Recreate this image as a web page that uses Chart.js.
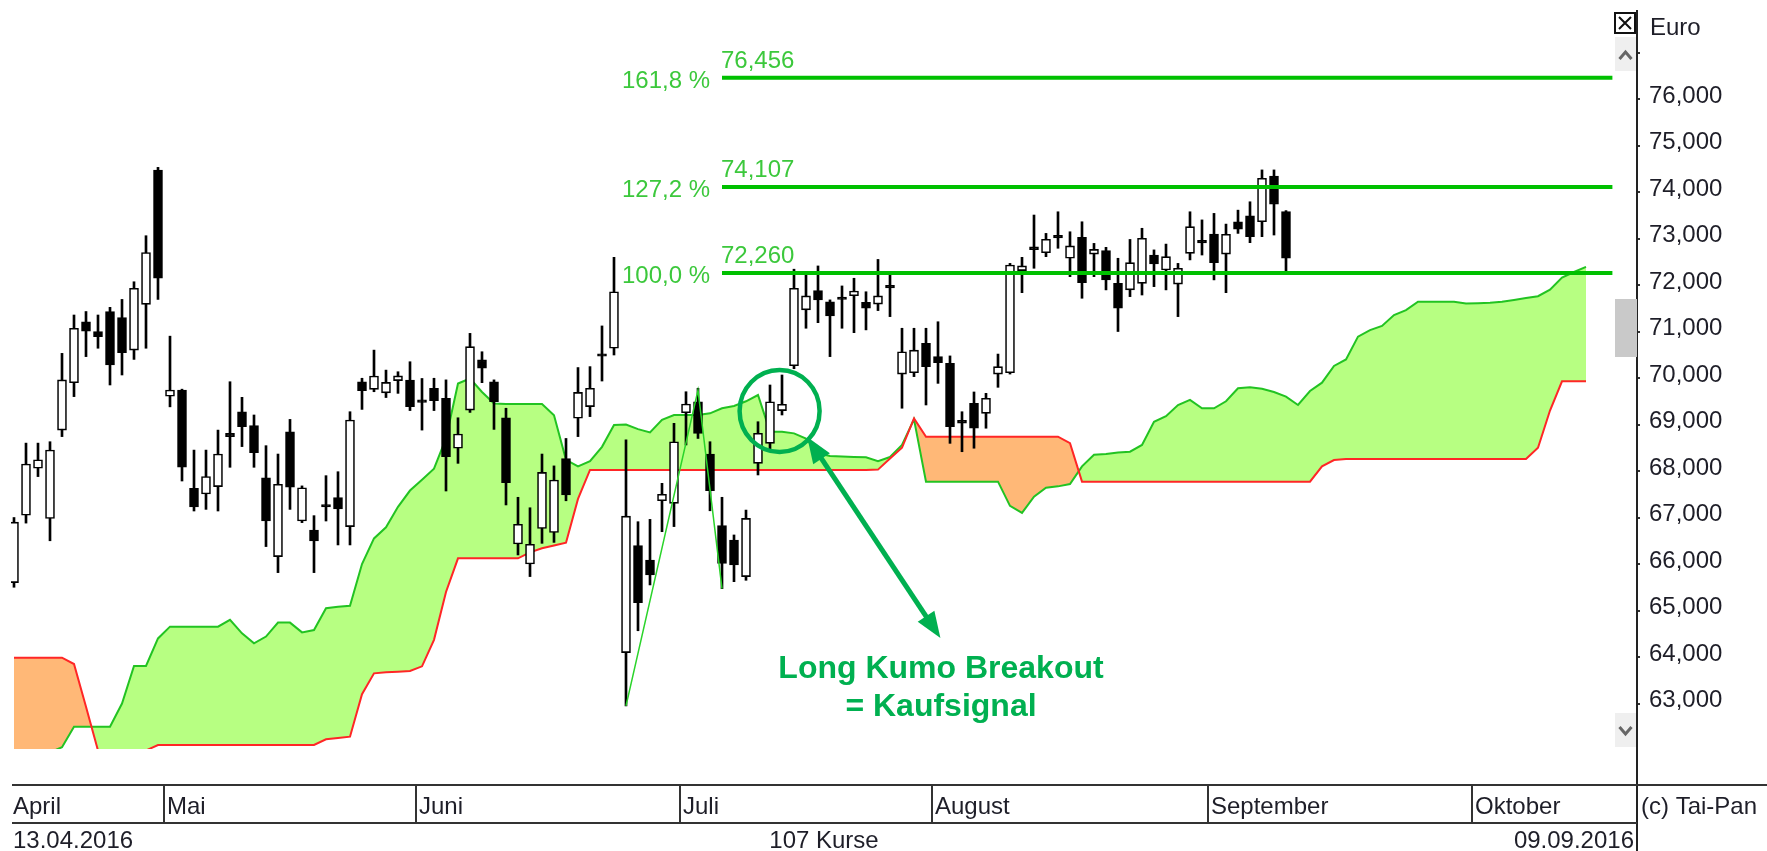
<!DOCTYPE html>
<html lang="de">
<head>
<meta charset="UTF-8" />
<title>Ichimoku Kumo Breakout</title>
<script src="https://cdn.jsdelivr.net/npm/chart.js"></script>
<style>
  html, body { margin: 0; padding: 0; background: #fff; }
  .wrap { width: 1767px; height: 851px; position: relative; }
</style>
</head>
<body>
<div class="wrap"><canvas id="chart"></canvas></div>
<script>
  // Kurse 13.04.2016 - 09.09.2016 (107 Kurse), Werte in 1/1000 Euro
  const opens = [65600, 67050, 68060, 66980, 68880, 69900, 71210, 71000, 71430, 71300,
    70600, 71585, 74470, 69610, 69740, 67630, 67505, 67665, 68810, 69275,
    68975, 67855, 66160, 68845, 66925, 66730, 67280, 67430, 66805, 69920,
    69757, 69680, 69945, 69955, 69530, 69780, 69565, 68490, 69310, 70390,
    69920, 69145, 66430, 66000, 66765, 66680, 68270, 69135, 69385, 70520,
    70640, 64095, 66395, 66085, 67360, 67305, 69255, 69490, 68365, 66825,
    66515, 65730, 68165, 68595, 69300, 70265, 71465, 71880, 71640, 71740,
    71770, 71630, 71590, 71995, 70085, 70115, 70745, 70460, 70315, 69090,
    69455, 69240, 70085, 70115, 72310, 72820, 72695, 73070, 72575, 73025,
    72665, 72740, 72035, 71895, 72035, 72645, 72325, 72020, 72680, 72960,
    73095, 72665, 73360, 73485, 73360, 74345, 73580];
  const highs = [67000, 68600, 68600, 68630, 70530, 71355, 71430, 71355, 71520, 71690,
    72070, 73060, 74530, 70900, 69760, 68450, 68450, 68880, 69920, 69585,
    69205, 68545, 68365, 69110, 67680, 67040, 67900, 67985, 69275, 69995,
    70600, 70170, 70135, 70350, 69990, 69995, 69960, 69145, 70960, 70565,
    69960, 69350, 67435, 67210, 68365, 68110, 68700, 70225, 70245, 71120,
    72595, 68670, 66910, 66960, 67735, 69025, 69705, 69780, 68630, 67435,
    66625, 67160, 69060, 69850, 70065, 72340, 72215, 72410, 71680, 71980,
    72145, 71855, 72550, 72215, 71070, 71070, 71070, 71210, 70475, 69275,
    69700, 69670, 70515, 72465, 72595, 73505, 73110, 73575, 73145, 73360,
    72895, 72810, 72575, 72980, 73220, 72755, 72880, 72465, 73575, 73400,
    73540, 73310, 73610, 73790, 74475, 74475, 73600];
  const lows = [65500, 66880, 67880, 66500, 68740, 69600, 70460, 70640, 69850, 70065,
    70400, 70640, 71690, 69380, 67785, 67140, 67175, 67140, 68080, 68525,
    68080, 66375, 65815, 67175, 66890, 65815, 66925, 66410, 66410, 69325,
    69705, 69580, 69670, 69300, 68880, 69300, 67570, 68165, 69260, 69900,
    68895, 67270, 66195, 65730, 66445, 66465, 67360, 68740, 69170, 69935,
    70495, 62950, 64565, 65550, 66695, 66805, 68560, 68700, 67145, 65470,
    65620, 65650, 67915, 68450, 69205, 70200, 71070, 71190, 70460, 71070,
    70975, 71035, 71450, 71320, 69350, 70030, 69420, 69885, 68595, 68415,
    68490, 68920, 69800, 70085, 71835, 72360, 72610, 72790, 72180, 71715,
    72180, 71895, 71000, 71750, 71785, 71965, 71895, 71320, 72540, 72645,
    72110, 71835, 73110, 72910, 73040, 73075, 72290];
  const closes = [66900, 68150, 68240, 68450, 69960, 71070, 71010, 70890, 70280, 70545,
    71930, 72700, 72145, 69740, 68080, 67230, 67880, 68365, 68740, 68955,
    68395, 66925, 67715, 67650, 67640, 66495, 67230, 67185, 69095, 69730,
    70043, 69905, 70045, 69385, 69475, 69515, 68310, 68795, 70675, 70210,
    69490, 67750, 66855, 66425, 67970, 67805, 67485, 69690, 69780, 70470,
    71855, 67030, 65170, 65765, 67500, 68630, 69440, 68810, 67580, 66015,
    65980, 66980, 68810, 69490, 69435, 71930, 71765, 71680, 71335, 71690,
    71870, 71500, 71765, 71935, 70565, 70600, 70245, 70330, 68955, 69030,
    68920, 69565, 70245, 72430, 72410, 72760, 72985, 73010, 72840, 72050,
    72765, 72110, 71500, 72480, 73005, 72455, 72610, 72360, 73255, 72905,
    72480, 73090, 73200, 73040, 74295, 73740, 72575];

  // Kumo: Senkou Span A / B (nach vorn versetzt)
  const spanA = [61900, 61900, 61900, 61950, 62060, 62500, 62500, 62500, 62500, 63000,
    63807, 63807, 64400, 64653, 64653, 64653, 64653, 64653, 64800, 64510,
    64295, 64440, 64740, 64740, 64530, 64580, 65050, 65080, 65100, 66000,
    66550, 66790, 67230, 67580, 67810, 68050, 68700, 69880, 69990, 69700,
    69450, 69441, 69441, 69441, 69441, 69200, 68240, 68100, 68210, 68520,
    68990, 69000, 68900, 68830, 69100, 69204, 69204, 69204, 69240, 69348,
    69400, 69500, 69634, 68846, 68846, 68810, 68700, 68380, 68323, 68310,
    68300, 68294, 68210, 68300, 68560, 69110, 67771, 67771, 67771, 67771,
    67771, 67771, 67771, 67250, 67100, 67450, 67640, 67670, 67720, 68100,
    68350, 68366, 68400, 68416, 68560, 69060, 69180, 69420, 69530, 69350,
    69348, 69500, 69780, 69800, 69770, 69700, 69600, 69420, 69720, 69900,
    70260, 70400, 70890, 71030, 71119, 71355, 71460, 71642, 71642, 71642,
    71642, 71600, 71610, 71620, 71642, 71680, 71720, 71760, 71900, 72160,
    72280, 72390];
  const spanB = [63986, 63986, 63986, 63986, 63986, 63850, 62930, 61990, 61990, 61990,
    61990, 61990, 62108, 62108, 62108, 62108, 62108, 62108, 62108, 62108,
    62108, 62108, 62108, 62108, 62108, 62108, 62230, 62260, 62287, 63200,
    63649, 63670, 63685, 63700, 63800, 64370, 65400, 66122, 66122, 66122,
    66122, 66122, 66122, 66250, 66340, 66400, 66459, 67400, 68022, 68022,
    68022, 68022, 68022, 68022, 68022, 68022, 68022, 68022, 68022, 68022,
    68022, 68022, 68022, 68022, 68022, 68022, 68022, 68022, 68022, 68022,
    68022, 68022, 68030, 68270, 68500, 69130, 68738, 68738, 68738, 68738,
    68738, 68738, 68738, 68738, 68738, 68738, 68738, 68738, 68600, 67771,
    67771, 67771, 67771, 67771, 67771, 67771, 67771, 67771, 67771, 67771,
    67771, 67771, 67771, 67771, 67771, 67771, 67771, 67771, 67771, 68100,
    68237, 68258, 68258, 68258, 68258, 68258, 68258, 68258, 68258, 68258,
    68258, 68258, 68258, 68258, 68258, 68258, 68258, 68500, 69300, 69930,
    69930, 69930];

  // Fibonacci-Extension: Punkte A-B-C und Zielzonen
  const zigzagIdx = [51, 57, 59];
  const zigzagVal = [62950, 69740, 65470];
  const fibLevels = [72260, 74107, 76456];
  const fibLabels = ['100,0 %', '127,2 %', '161,8 %'];

  // Monate / Achse
  const monthNames = ['April', 'Mai', 'Juni', 'Juli', 'August', 'September', 'Oktober'];
  const monthBreaks = [12.5, 33.5, 55.5, 76.5, 99.5, 121.5];
  const yTicks = [63000, 64000, 65000, 66000, 67000, 68000, 69000, 70000,
    71000, 72000, 73000, 74000, 75000, 76000, 77000];
  const yLabelMax = 76000;

  const FONT = '"Liberation Sans", Arial, sans-serif';
  const TXT = '#1e1e28';
  const SIGNAL = '#00b050';
  const plotEnd = 133.2;   // rechter Rand des Kursbereichs (vor Scrollbar)

  const idx = opens.map((_, i) => i);
  const fibStart = zigzagIdx[2];

  const fibSets = fibLevels.map(v => ({
    type: 'line',
    data: [{ x: fibStart, y: v }, { x: plotEnd, y: v }],
    borderColor: '#00c000',
    borderWidth: 4,
    pointRadius: 0,
    fill: false,
    order: 0,
    clip: 0
  }));

  const fmt = v => (v / 1000).toFixed(3).replace('.', ',');

  const frame = {
    id: 'taipanFrame',
    afterDatasetsDraw(chart) {
      const { ctx, scales: { x, y } } = chart;
      ctx.save();
      ctx.font = '24px ' + FONT;
      ctx.fillStyle = '#3cc83c';
      ctx.textBaseline = 'alphabetic';
      const x0 = x.getPixelForValue(fibStart);
      fibLevels.forEach((v, k) => {
        const py = y.getPixelForValue(v);
        ctx.textAlign = 'right';
        ctx.fillText(fibLabels[k], x0 - 12, py + 10);
        ctx.textAlign = 'left';
        ctx.fillText(fmt(v), x0 - 1, py - 10);
      });

      // Kumo-Breakout Markierung
      ctx.strokeStyle = SIGNAL;
      ctx.fillStyle = SIGNAL;
      ctx.lineWidth = 4.5;
      ctx.beginPath();
      ctx.ellipse(x.getPixelForValue(63.8), y.getPixelForValue(69290), 40, 41, 0, 0, Math.PI * 2);
      ctx.stroke();

      const ax = x.getPixelForValue(66.1), ay = y.getPixelForValue(68731);
      const bx = x.getPixelForValue(77.2), by = y.getPixelForValue(64409);
      const ang = Math.atan2(by - ay, bx - ax);
      const head = 26, hw = 10;
      const sx = ax + Math.cos(ang) * head * 0.8, sy = ay + Math.sin(ang) * head * 0.8;
      const ex = bx - Math.cos(ang) * head * 0.8, ey = by - Math.sin(ang) * head * 0.8;
      ctx.lineWidth = 5;
      ctx.beginPath();
      ctx.moveTo(sx, sy);
      ctx.lineTo(ex, ey);
      ctx.stroke();
      const tip = (tx, ty, dir) => {
        const c = Math.cos(ang) * dir, s = Math.sin(ang) * dir;
        const bxp = tx - c * head, byp = ty - s * head;
        ctx.beginPath();
        ctx.moveTo(tx, ty);
        ctx.lineTo(bxp - s * hw, byp + c * hw);
        ctx.lineTo(bxp + s * hw, byp - c * hw);
        ctx.closePath();
        ctx.fill();
      };
      tip(bx, by, 1);
      tip(ax, ay, -1);
      ctx.restore();
    },
    afterDraw(chart) {
      const { ctx, chartArea: a, scales: { x, y } } = chart;
      const W = chart.width, H = chart.height;
      ctx.save();

      ctx.font = 'bold 32px ' + FONT;
      ctx.fillStyle = SIGNAL;
      ctx.textAlign = 'center';
      ctx.textBaseline = 'middle';
      const tx = x.getPixelForValue(77.25);
      ctx.fillText('Long Kumo Breakout', tx, y.getPixelForValue(63742));
      ctx.fillText('= Kaufsignal', tx, y.getPixelForValue(62925));

      // Achsenlinie
      ctx.strokeStyle = '#222';
      ctx.lineWidth = 2;
      ctx.beginPath();
      ctx.moveTo(a.right, a.top);
      ctx.lineTo(a.right, H);
      ctx.stroke();

      // Scrollbar / Schliessen-Knopf
      const sbL = a.right - 22, sbW = 21;
      ctx.strokeStyle = '#111';
      ctx.lineWidth = 2;
      ctx.strokeRect(sbL, 13, sbW - 1, 20);
      ctx.beginPath();
      ctx.moveTo(sbL + 4, 17); ctx.lineTo(sbL + sbW - 5, 29);
      ctx.moveTo(sbL + sbW - 5, 17); ctx.lineTo(sbL + 4, 29);
      ctx.stroke();
      ctx.fillStyle = '#efefef';
      ctx.fillRect(sbL, 37, sbW, 34);
      ctx.fillRect(sbL, 713, sbW, 34);
      ctx.fillStyle = '#c9c9c9';
      ctx.fillRect(sbL, 299, sbW + 1, 58);
      ctx.strokeStyle = '#666';
      ctx.lineWidth = 3;
      const cx = sbL + sbW / 2;
      ctx.beginPath();
      ctx.moveTo(cx - 6, 59); ctx.lineTo(cx, 52); ctx.lineTo(cx + 6, 59);
      ctx.moveTo(cx - 6, 727); ctx.lineTo(cx, 734); ctx.lineTo(cx + 6, 727);
      ctx.stroke();

      // Einheit
      ctx.font = '24px ' + FONT;
      ctx.fillStyle = TXT;
      ctx.textAlign = 'left';
      ctx.textBaseline = 'alphabetic';
      ctx.fillText('Euro', a.right + 13, 35);

      // Monatsleiste
      const top = 785, bot = 823;
      ctx.strokeStyle = '#333';
      ctx.lineWidth = 2;
      ctx.beginPath();
      ctx.moveTo(a.left + 1, top); ctx.lineTo(W, top);
      ctx.moveTo(a.left + 1, bot); ctx.lineTo(a.right, bot);
      monthBreaks.forEach(m => {
        const px = Math.round(x.getPixelForValue(m));
        ctx.moveTo(px, top); ctx.lineTo(px, bot);
      });
      ctx.stroke();
      monthNames.forEach((n, k) => {
        const px = k === 0 ? a.left + 2 : Math.round(x.getPixelForValue(monthBreaks[k - 1])) + 3;
        ctx.fillText(n, px, 814);
      });
      ctx.fillText('(c) Tai-Pan', a.right + 4, 814);

      ctx.fillText('13.04.2016', a.left + 2, 848);
      ctx.textAlign = 'center';
      ctx.fillText(opens.length + ' Kurse', (a.left + a.right) / 2, 848);
      ctx.textAlign = 'right';
      ctx.fillText('09.09.2016', a.right - 3, 848);
      ctx.restore();
    }
  };

  new Chart(document.getElementById('chart'), {
    type: 'bar',
    data: {
      datasets: [
        {
          type: 'line',
          data: spanA.map((v, i) => ({ x: i, y: v })),
          borderColor: '#22c322',
          borderWidth: 2,
          pointRadius: 0,
          fill: { target: 1, above: '#b7ff82', below: '#ffb877' },
          order: 10,
          clip: 0
        },
        {
          type: 'line',
          data: spanB.map((v, i) => ({ x: i, y: v })),
          borderColor: '#ff2626',
          borderWidth: 2,
          pointRadius: 0,
          fill: false,
          order: 9,
          clip: 0
        },
        {
          data: idx.map(i => ({ x: i, y: [lows[i], highs[i]] })),
          backgroundColor: '#000',
          borderWidth: 0,
          barThickness: 2,
          grouped: false,
          order: 5,
          clip: 0
        },
        {
          data: idx.map(i => ({ x: i, y: [opens[i], closes[i]] })),
          backgroundColor: idx.map(i => closes[i] > opens[i] ? '#fff' : '#000'),
          borderColor: '#000',
          borderWidth: 1.6,
          borderSkipped: false,
          barThickness: 9,
          grouped: false,
          order: 4,
          clip: 0
        },
        {
          type: 'line',
          data: zigzagIdx.map((v, k) => ({ x: v, y: zigzagVal[k] })),
          borderColor: '#2ad42a',
          borderWidth: 1.5,
          pointRadius: 0,
          fill: false,
          order: 1,
          clip: 0
        },
        ...fibSets
      ]
    },
    options: {
      responsive: true,
      maintainAspectRatio: false,
      animation: false,
      layout: { padding: { left: 11, top: 10, right: 0, bottom: 102 } },
      plugins: { legend: { display: false }, tooltip: { enabled: false } },
      scales: {
        x: { type: 'linear', min: -0.25, max: 135.25, display: false, offset: false },
        y: {
          position: 'right',
          min: 62022,
          max: 77914,
          afterBuildTicks(s) { s.ticks = yTicks.map(v => ({ value: v })); },
          afterFit(s) { s.width = 130; s.paddingTop = 0; s.paddingBottom = 0; },
          border: { display: false },
          grid: { drawOnChartArea: false, tickLength: 3, color: '#333', lineWidth: 2 },
          ticks: {
            padding: 9,
            labelOffset: -3,
            autoSkip: false,
            color: TXT,
            font: { family: FONT, size: 24 },
            callback: v => v > yLabelMax ? '' : fmt(v)
          }
        }
      }
    },
    plugins: [frame]
  });
</script>
</body>
</html>
